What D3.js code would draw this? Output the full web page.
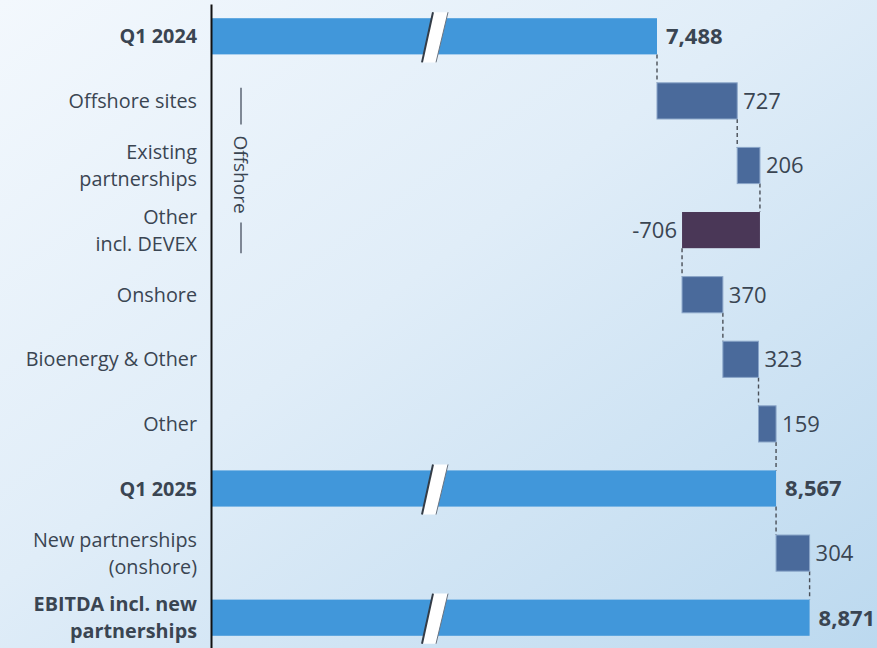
<!DOCTYPE html>
<html>
<head>
<meta charset="utf-8">
<script src="https://cdn.jsdelivr.net/npm/d3@7"></script>
<style>
  html, body { margin: 0; padding: 0; }
  body { width: 877px; height: 648px; overflow: hidden; }
  svg { display: block; font-family: "Open Sans", Lato, sans-serif; }
</style>
</head>
<body>
<div id="chart"></div>
<script>
// Categories (line breaks as in the source)
var categories = [
    ["Q1 2024"],
    ["Offshore sites"],
    ["Existing", "partnerships"],
    ["Other", "incl. DEVEX"],
    ["Onshore"],
    ["Bioenergy & Other"],
    ["Other"],
    ["Q1 2025"],
    ["New partnerships", "(onshore)"],
    ["EBITDA incl. new", "partnerships"]
];
// Values (DKKm)
var values = [7488, 727, 206, -706, 370, 323, 159, 8567, 304, 8871];
// Which rows are totals
var kinds = ["total", "delta", "delta", "delta", "delta", "delta", "delta", "total", "delta", "total"];
// Offshore group spans rows 1..3
var offshoreRows = [1, 3];

(function() {

    var width = 877, height = 648;
    var font = "'Open Sans', Lato, sans-serif";
    var textColor = "#3a4552";
    var fmt = d3.formatLocale({ decimal: ".", thousands: ",", grouping: [3], currency: ["", ""], minus: "-" }).format(",");

    var svg = d3.select("#chart")
        .append("svg")
        .attr("width", width)
        .attr("height", height);

    // Background gradient
    var defs = svg.append("defs");
    var grad = defs.append("linearGradient")
        .attr("id", "bg")
        .attr("x1", "0%").attr("y1", "0%")
        .attr("x2", "100%").attr("y2", "100%");
    grad.append("stop").attr("offset", "0%").attr("stop-color", "#f3f8fd");
    grad.append("stop").attr("offset", "45%").attr("stop-color", "#e0edf8");
    grad.append("stop").attr("offset", "100%").attr("stop-color", "#bcd9ef");
    svg.append("rect")
        .attr("width", width).attr("height", height)
        .attr("fill", "url(#bg)");

    // Build waterfall rows
    var running = 0;
    var rows = values.map(function(v, i) {
        var r = { i: i, value: v, kind: kinds[i], label: categories[i] };
        if (r.kind === "total") {
            r.start = null; r.end = v; running = v;
        } else {
            r.start = running; r.end = running + v; running = r.end;
        }
        return r;
    });

    var x = d3.scaleLinear()
        .domain([3455, 9500])
        .range([212, 879]);

    var y = d3.scaleBand()
        .domain(rows.map(function(d) { return d.i; }))
        .range([4, 650])
        .paddingInner(0.44)
        .paddingOuter(0.22);

    var bw = y.bandwidth();

    // Dashed connectors
    svg.selectAll(".conn")
        .data(rows.slice(0, -1))
        .enter().append("line")
        .attr("class", "conn")
        .attr("x1", function(d) { return x(d.end); })
        .attr("x2", function(d) { return x(d.end); })
        .attr("y1", function(d) { return y(d.i) + bw; })
        .attr("y2", function(d) { return y(d.i + 1); })
        .attr("stroke", "#4a4f57")
        .attr("stroke-width", 1.4)
        .attr("stroke-dasharray", "4,3");

    // Bars
    svg.selectAll(".bar")
        .data(rows)
        .enter().append("rect")
        .attr("class", "bar")
        .attr("x", function(d) {
            return d.kind === "total" ? x.range()[0] : x(Math.min(d.start, d.end));
        })
        .attr("width", function(d) {
            return d.kind === "total" ? x(d.end) - x.range()[0] : Math.abs(x(d.end) - x(d.start));
        })
        .attr("y", function(d) { return y(d.i); })
        .attr("height", bw)
        .attr("fill", function(d) {
            if (d.kind === "total") return "#4197da";
            return d.value < 0 ? "#4a3757" : "#4a6a9b";
        })
        .attr("stroke", function(d) {
            if (d.kind === "total") return "none";
            return d.value < 0 ? "none" : "#8aa5c8";
        })
        .attr("stroke-width", 1);

    // Axis break marks on total bars
    var breakX = 435;
    var breaks = svg.selectAll(".brk")
        .data(rows.filter(function(d) { return d.kind === "total"; }))
        .enter().append("g")
        .attr("class", "brk")
        .attr("transform", function(d) { return "translate(" + breakX + "," + y(d.i) + ")"; });
    breaks.append("polygon")
        .attr("points", function() {
            return [[-2, -6], [13, -6], [1, bw + 8], [-13, bw + 8]].join(" ");
        })
        .attr("fill", "#ffffff");
    breaks.append("line")
        .attr("x1", -2).attr("y1", -6).attr("x2", -13).attr("y2", bw + 8)
        .attr("stroke", "#333c47").attr("stroke-width", 2);
    breaks.append("line")
        .attr("x1", 13).attr("y1", -6).attr("x2", 1).attr("y2", bw + 8)
        .attr("stroke", "#6b7480").attr("stroke-width", 1);

    // Value labels
    svg.selectAll(".val")
        .data(rows)
        .enter().append("text")
        .attr("class", "val")
        .attr("x", function(d) {
            if (d.kind === "delta" && d.value < 0) return x(d.end) - 5;
            if (d.kind === "total") return x(d.end) + 9;
            return x(Math.max(d.start, d.end)) + 6;
        })
        .attr("y", function(d) { return y(d.i) + bw / 2; })
        .attr("dy", "0.36em")
        .attr("text-anchor", function(d) { return d.kind === "delta" && d.value < 0 ? "end" : "start"; })
        .attr("font-family", font)
        .attr("font-size", 22)
        .attr("font-weight", function(d) { return d.kind === "total" ? 700 : 400; })
        .attr("fill", textColor)
        .text(function(d) { return fmt(d.value); });

    // Category axis
    var axis = svg.append("g")
        .attr("class", "y-axis")
        .attr("transform", "translate(211,0)")
        .call(d3.axisLeft(y).tickSize(0).tickSizeOuter(0).tickPadding(14).tickFormat(""));
    axis.select(".domain")
        .attr("stroke", "#111")
        .attr("stroke-width", 2);
    axis.selectAll(".tick text").each(function(i) {
        var t = d3.select(this);
        var lines = rows[i].label;
        var lh = 27;
        t.attr("font-size", 19.8)
            .attr("font-family", font)
            .attr("fill", textColor)
            .attr("font-weight", rows[i].kind === "total" ? 700 : 400)
            .attr("dy", null)
            .attr("y", 0);
        lines.forEach(function(l, k) {
            t.append("tspan")
                .attr("x", -14)
                .attr("y", (k - (lines.length - 1) / 2) * lh)
                .attr("dy", "0.36em")
                .text(l);
        });
    });

    // Offshore bracket
    var bx = 241;
    var by0 = y(offshoreRows[0]) + 5;
    var by1 = y(offshoreRows[1]) + bw + 5;
    var bmid = (by0 + by1) / 2 + 4;
    svg.append("line")
        .attr("x1", bx).attr("x2", bx)
        .attr("y1", by0).attr("y2", bmid - 50)
        .attr("stroke", "#5b6573").attr("stroke-width", 1.5);
    svg.append("line")
        .attr("x1", bx).attr("x2", bx)
        .attr("y1", bmid + 48).attr("y2", by1)
        .attr("stroke", "#5b6573").attr("stroke-width", 1.5);
    svg.append("text")
        .attr("transform", "translate(" + bx + "," + bmid + ") rotate(90)")
        .attr("text-anchor", "middle")
        .attr("dy", "0.35em")
        .attr("font-family", font)
        .attr("font-size", 19)
        .attr("fill", textColor)
        .text("Offshore");

}());
</script>
</body>
</html>
